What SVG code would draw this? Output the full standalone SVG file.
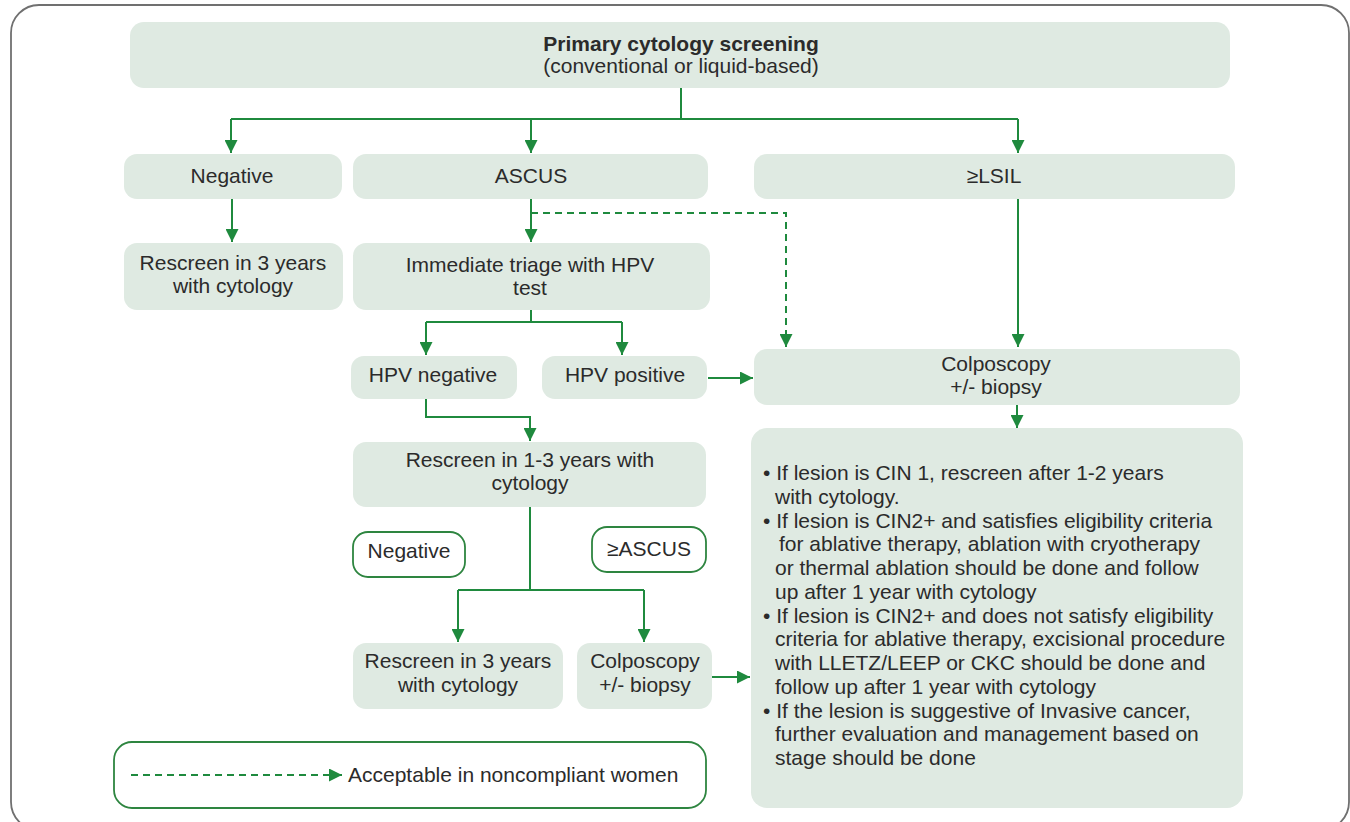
<svg xmlns="http://www.w3.org/2000/svg" width="1350" height="822" viewBox="0 0 1350 822">
<defs>
<style>
.box{fill:#dfeae2;stroke:none}
.lbl{fill:#ffffff;stroke:#2e8540;stroke-width:1.8}
text{font-family:"Liberation Sans",Arial,sans-serif;font-size:21px;fill:#2b2b2b}
.c{text-anchor:middle}
.b{font-weight:bold}
.ln{fill:none;stroke:#1f8a3e;stroke-width:2}
.dash{stroke-dasharray:7 5}
</style>
<marker id="ah" markerUnits="userSpaceOnUse" markerWidth="13" markerHeight="13" refX="13" refY="6.5" orient="auto">
<path d="M0,0 L13,6.5 L0,13 z" fill="#1f8a3e"/>
</marker>
</defs>
<rect x="0" y="0" width="1350" height="822" fill="#ffffff"/>
<rect x="11" y="5" width="1338" height="825" rx="28" fill="none" stroke="#707070" stroke-width="1.8"/>

<g id="connectors">
<path class="ln" d="M681,88 V119 M231,119 H1018"/>
<path class="ln" d="M231,119 V153" marker-end="url(#ah)"/>
<path class="ln" d="M531,119 V153" marker-end="url(#ah)"/>
<path class="ln" d="M1018,119 V153" marker-end="url(#ah)"/>
<path class="ln" d="M232,199 V242" marker-end="url(#ah)"/>
<path class="ln" d="M531,199 V242" marker-end="url(#ah)"/>
<path class="ln dash" d="M531,213 H786 V347" marker-end="url(#ah)"/>
<path class="ln" d="M1018,199 V347" marker-end="url(#ah)"/>
<path class="ln" d="M531,309 V322 M426,322 H622"/>
<path class="ln" d="M426,322 V355" marker-end="url(#ah)"/>
<path class="ln" d="M622,322 V355" marker-end="url(#ah)"/>
<path class="ln" d="M708,378 H753" marker-end="url(#ah)"/>
<path class="ln" d="M426,399 V417 H530 V441" marker-end="url(#ah)"/>
<path class="ln" d="M530,507 V590 M458,590 H644"/>
<path class="ln" d="M458,590 V642" marker-end="url(#ah)"/>
<path class="ln" d="M644,590 V642" marker-end="url(#ah)"/>
<path class="ln" d="M712,677 H750" marker-end="url(#ah)"/>
<path class="ln" d="M1017,405 V428" marker-end="url(#ah)"/>
</g>

<g id="primary">
<rect class="box" x="130" y="22" width="1100" height="66" rx="14"/>
<text class="c b" x="681" y="51">Primary cytology screening</text>
<text class="c" x="681" y="73">(conventional or liquid-based)</text>
</g>
<g id="negative">
<rect class="box" x="124" y="154" width="218" height="45" rx="13"/>
<text class="c" x="232" y="183">Negative</text>
</g>
<g id="ascus">
<rect class="box" x="353" y="154" width="355" height="45" rx="13"/>
<text class="c" x="531" y="183">ASCUS</text>
</g>
<g id="lsil">
<rect class="box" x="754" y="154" width="481" height="45" rx="13"/>
<text class="c" x="994" y="183">≥LSIL</text>
</g>
<g id="rescreen3a">
<rect class="box" x="124" y="243" width="219" height="67" rx="13"/>
<text class="c" x="233" y="270">Rescreen in 3 years</text>
<text class="c" x="233" y="293">with cytology</text>
</g>
<g id="triage">
<rect class="box" x="353" y="243" width="357" height="67" rx="13"/>
<text class="c" x="530" y="272">Immediate triage with HPV</text>
<text class="c" x="530" y="295">test</text>
</g>
<g id="hpvneg">
<rect class="box" x="351" y="356" width="166" height="43" rx="13"/>
<text class="c" x="433" y="382">HPV negative</text>
</g>
<g id="hpvpos">
<rect class="box" x="542" y="356" width="165" height="43" rx="13"/>
<text class="c" x="625" y="382">HPV positive</text>
</g>
<g id="colposcopy">
<rect class="box" x="754" y="349" width="486" height="56" rx="13"/>
<text class="c" x="996" y="371">Colposcopy</text>
<text class="c" x="996" y="394">+/- biopsy</text>
</g>
<g id="rescreen13">
<rect class="box" x="353" y="442" width="353" height="65" rx="13"/>
<text class="c" x="530" y="467">Rescreen in 1-3 years with</text>
<text class="c" x="530" y="490">cytology</text>
</g>
<g id="neglabel">
<rect class="lbl" x="353" y="532" width="112" height="45" rx="15"/>
<text class="c" x="409" y="558">Negative</text>
</g>
<g id="ascuslabel">
<rect class="lbl" x="592" y="527" width="114" height="45" rx="15"/>
<text class="c" x="649" y="556">≥ASCUS</text>
</g>
<g id="rescreen3b">
<rect class="box" x="353" y="643" width="210" height="66" rx="13"/>
<text class="c" x="458" y="668">Rescreen in 3 years</text>
<text class="c" x="458" y="692">with cytology</text>
</g>
<g id="colposcopy2">
<rect class="box" x="577" y="643" width="135" height="66" rx="13"/>
<text class="c" x="645" y="668">Colposcopy</text>
<text class="c" x="645" y="692">+/- biopsy</text>
</g>
<g id="management">
<rect class="box" x="751" y="428" width="492" height="380" rx="16"/>
<text x="763" y="480">• If lesion is CIN 1, rescreen after 1-2 years</text>
<text x="775" y="504">with cytology.</text>
<text x="763" y="527.5">• If lesion is CIN2+ and satisfies eligibility criteria</text>
<text x="779" y="551">for ablative therapy, ablation with cryotherapy</text>
<text x="775" y="575">or thermal ablation should be done and follow</text>
<text x="775" y="599">up after 1 year with cytology</text>
<text x="763" y="622.5">• If lesion is CIN2+ and does not satisfy eligibility</text>
<text x="775" y="646">criteria for ablative therapy, excisional procedure</text>
<text x="775" y="670">with LLETZ/LEEP or CKC should be done and</text>
<text x="775" y="694">follow up after 1 year with cytology</text>
<text x="763" y="717.5">• If the lesion is suggestive of Invasive cancer,</text>
<text x="775" y="741">further evaluation and management based on</text>
<text x="775" y="765">stage should be done</text>
</g>
<g id="legend">
<rect x="114" y="742" width="592" height="66" rx="18" fill="#ffffff" stroke="#2e8540" stroke-width="1.8"/>
<path class="ln dash" d="M131,775 H342" marker-end="url(#ah)"/>
<text x="348" y="782">Acceptable in noncompliant women</text>
</g>
</svg>
